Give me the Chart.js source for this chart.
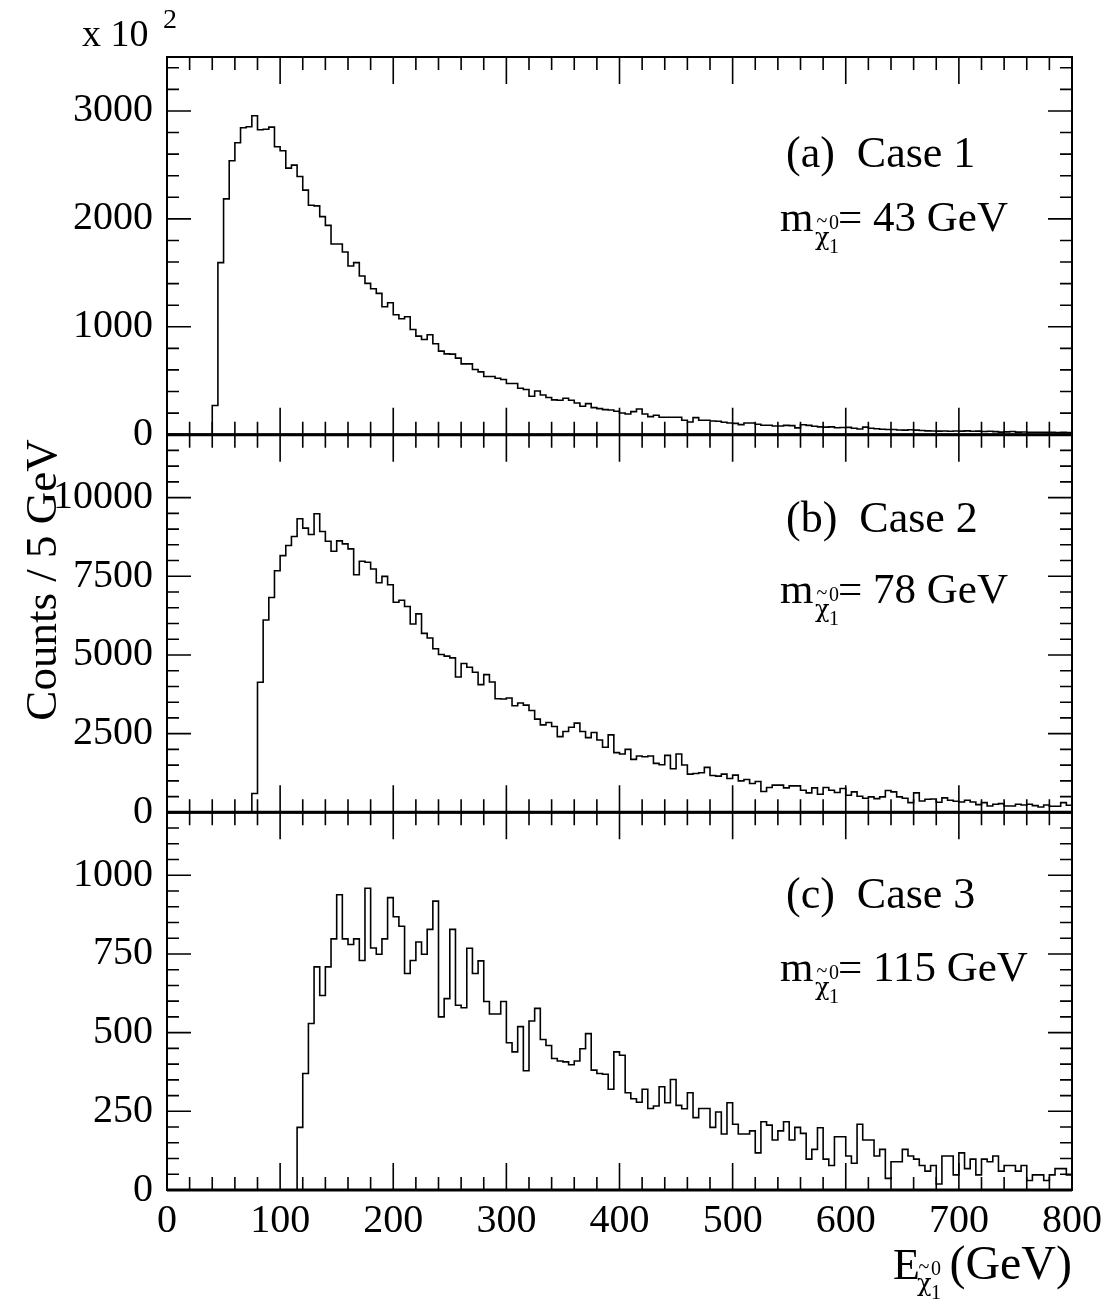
<!DOCTYPE html>
<html>
<head>
<meta charset="utf-8">
<title>Neutralino energy spectra</title>
<script src="https://cdn.jsdelivr.net/npm/chart.js@4.4.1/dist/chart.umd.min.js"></script>
<style>
    html, body { margin: 0; padding: 0; background: #fff; }
    #wrap { position: relative; width: 1109px; height: 1309px; }
</style>
</head>
<body>
<div id="wrap"><canvas id="mainChart" width="1109" height="1309"></canvas></div>
<script>
// Histogram bins: 5 GeV wide, 0 - 800 GeV (160 bins per case)
const BIN_WIDTH = 5;
const X_MIN = 0;
const X_MAX = 800;
const xTickLabels = [0, 100, 200, 300, 400, 500, 600, 700, 800];

// Counts / 5 GeV (in units of 10^2), bin by bin from 0 GeV
const case1Counts = [
    0, 0, 0, 0, 0, 0, 0, 0,
    270, 1594, 2185, 2538, 2705, 2844, 2853, 2956, 2826, 2830,
    2850, 2668, 2631, 2470, 2498, 2393, 2266, 2126, 2120, 2021,
    1940, 1767, 1767, 1693, 1563, 1594, 1470, 1402, 1352, 1309,
    1185, 1223, 1111, 1074, 1093, 975, 913, 882, 926, 842,
    774, 749, 746, 709, 656, 656, 604, 582, 539, 539,
    523, 511, 474, 474, 430, 418, 356, 405, 368, 344,
    322, 319, 337, 319, 294, 263, 288, 251, 241, 232,
    229, 217, 201, 192, 214, 238, 192, 167, 180, 161,
    161, 161, 161, 133, 118, 158, 133, 133, 127, 124,
    115, 108, 105, 93, 108, 108, 96, 87, 87, 80,
    80, 86, 84, 63, 92, 86, 78, 72, 70, 72,
    64, 66, 68, 60, 52, 70, 60, 55, 50, 48,
    48, 43, 42, 45, 42, 38, 35, 34, 33, 34,
    32, 34, 33, 35, 32, 33, 30, 31, 28, 24,
    26, 30, 24, 25, 22, 23, 22, 21, 22, 20,
    21, 20
];

const case2Counts = [
    0, 0, 0, 0, 0, 0, 0, 0, 0, 0, 0, 0, 0, 0, 0,
    597, 4131, 6112, 6827, 7678, 8158, 8477, 8765, 9329, 9031,
    8829, 9489, 8925, 8615, 8296, 8626, 8530, 8371, 7550, 7977,
    7945, 7732, 7295, 7497, 7231, 6677, 6741, 6539, 5985, 6305,
    5687, 5538, 5197, 5016, 4963, 4909, 4302, 4728, 4611, 4452,
    4058, 4377, 4143, 3610, 3600, 3631, 3387, 3472, 3408, 3237,
    2961, 2780, 2854, 2726, 2407, 2567, 2705, 2833, 2567, 2375,
    2535, 2300, 2066, 2460, 1896, 1853, 2002, 1683, 1789, 1768,
    1789, 1555, 1512, 1810, 1385, 1853, 1502, 1214, 1235, 1257,
    1427, 1172, 1150, 1214, 1076, 1182, 1001, 1044, 916, 980,
    661, 788, 863, 863, 777, 841, 841, 703, 617, 777,
    575, 788, 703, 628, 756, 543, 650, 511, 447, 490,
    437, 490, 692, 650, 490, 447, 309, 618, 362, 415,
    426, 319, 458, 383, 351, 330, 383, 330, 245, 309,
    202, 256, 277, 202, 202, 256, 234, 256, 213, 170,
    234, 192, 192, 309, 224
];

const case3Counts = [
    0, 0, 0, 0, 0, 0, 0, 0, 0, 0, 0, 0, 0, 0, 0, 0, 0, 0, 0, 0, 0, 0, 0,
    199, 370, 529, 709, 618, 709, 798, 938, 798, 780,
    798, 729, 959, 769, 749, 798, 929, 868, 838, 688,
    729, 788, 749, 828, 918, 550, 608, 828, 587, 579,
    768, 688, 728, 599, 559, 559, 599, 468, 439, 519,
    379, 537, 577, 478, 459, 418, 410, 407, 398, 410,
    449, 497, 381, 370, 368, 320, 439, 428, 309, 290,
    279, 320, 259, 267, 328, 277, 351, 269, 258, 309,
    230, 259, 259, 199, 248, 178, 277, 209, 178, 178,
    188, 118, 217, 206, 159, 188, 217, 159, 199, 180,
    98, 129, 198, 98, 78, 169, 169, 108, 85, 209,
    159, 159, 108, 129, 37, 90, 90, 129, 108, 98,
    78, 60, 78, 19, 108, 108, 48, 118, 68, 98,
    48, 98, 90, 108, 60, 78, 78, 60, 78, 30,
    48, 48, 30, 48, 68, 68, 48
];

// Y axis ranges and labelled ticks, one per panel (top to bottom)
const case1Max = 3500;
const case2Max = 12000;
const case3Max = 1200;
const case1Ticks = [0, 1000, 2000, 3000];
const case2Ticks = [0, 2500, 5000, 7500, 10000];
const case3Ticks = [0, 250, 500, 750, 1000];
const panelLabels = ['(a)  Case 1', '(b)  Case 2', '(c)  Case 3'];
const neutralinoMasses = ['43', '78', '115'];

const FONT = '"Liberation Serif", "Times New Roman", serif';
const GREEK_FONT = '"DejaVu Serif", serif';
const PANELS = ['ya', 'yb', 'yc'];
// minor / major tick steps for each panel's y axis, and the x axis
const yTickSteps = [[200, 1000], [500, 2500], [50, 250]];
const X_MINOR_STEP = 20;
const X_MAJOR_STEP = 100;

document.addEventListener('DOMContentLoaded', () => {
    initChart();
});

function histPoints(counts) {
    // left bin edges, plus the closing edge at X_MAX
    const pts = counts.map((c, i) => ({ x: X_MIN + i * BIN_WIDTH, y: c }));
    pts.push({ x: X_MAX, y: counts[counts.length - 1] });
    return pts;
}

function yScale(max, ticks) {
    return {
        type: 'linear',
        position: 'left',
        stack: 'panels',
        stackWeight: 1,
        min: 0,
        max: max,
        afterBuildTicks: s => { s.ticks = ticks.map(v => ({ value: v })); },
        afterFit: s => { s.width = 167; },
        grid: { display: false, drawTicks: false },
        border: { display: false },
        ticks: {
            color: '#000',
            autoSkip: false,
            padding: 14,
            font: { family: FONT, size: 40 },
            callback: v => String(v)
        }
    };
}

function histDataset(counts, axisId) {
    return {
        data: histPoints(counts),
        yAxisID: axisId,
        stepped: 'before',
        borderColor: '#000',
        borderWidth: 1.6,
        pointRadius: 0,
        fill: false,
        tension: 0
    };
}

function text(ctx, str, x, y, size, align, family) {
    ctx.font = `${size}px ${family || FONT}`;
    ctx.textAlign = align || 'left';
    ctx.textBaseline = 'alphabetic';
    ctx.fillText(str, x, y);
}

// chi-tilde with 0 / 1 indices; (x, y) = baseline of the main text
function drawChiSub(ctx, x, y) {
    text(ctx, '\u03C7', x, y + 14, 24, 'left', GREEK_FONT);
    text(ctx, '~', x + 7, y - 4, 20, 'center');
    text(ctx, '0', x + 14, y - 2, 20);
    text(ctx, '1', x + 14, y + 22, 20);
}

const decorations = {
    id: 'decorations',
    afterDatasetsDraw(chart) {
        const ctx = chart.ctx;
        const xs = chart.scales.x;
        const left = chart.chartArea.left;
        const right = chart.chartArea.right;

        ctx.save();
        ctx.strokeStyle = '#000';
        ctx.fillStyle = '#000';

        PANELS.forEach((id, p) => {
            const ys = chart.scales[id];
            const top = ys.top;
            const bottom = ys.bottom;

            // inward ticks on all four sides
            ctx.lineWidth = 1.6;
            ctx.beginPath();
            for (let v = X_MIN; v <= X_MAX; v += X_MINOR_STEP) {
                const px = xs.getPixelForValue(v);
                const len = v % X_MAJOR_STEP === 0 ? 27 : 13;
                ctx.moveTo(px, bottom);
                ctx.lineTo(px, bottom - len);
                ctx.moveTo(px, top);
                ctx.lineTo(px, top + len);
            }
            const [minor, major] = yTickSteps[p];
            for (let v = 0; v <= ys.max; v += minor) {
                const py = ys.getPixelForValue(v);
                const len = v % major === 0 ? 24 : 12;
                ctx.moveTo(left, py);
                ctx.lineTo(left + len, py);
                ctx.moveTo(right, py);
                ctx.lineTo(right - len, py);
            }
            ctx.stroke();

            // frame
            ctx.lineWidth = 2;
            ctx.strokeRect(left, top, right - left, bottom - top);
            ctx.lineWidth = 3;
            ctx.beginPath();
            ctx.moveTo(left, bottom);
            ctx.lineTo(right, bottom);
            ctx.stroke();
        });

        // panel annotations
        const labelY = [167, 532, 908];
        const massY = [231, 603, 981];
        PANELS.forEach((id, p) => {
            text(ctx, panelLabels[p], 786, labelY[p], 44);
            text(ctx, 'm', 780, massY[p], 43);
            drawChiSub(ctx, 815, massY[p]);
            text(ctx, '= ' + neutralinoMasses[p] + ' GeV', 838, massY[p], 43);
        });

        // x axis title, right aligned to the frame
        text(ctx, '(GeV)', right, 1279, 48, 'right');
        text(ctx, 'E', 893, 1279, 44);
        drawChiSub(ctx, 917, 1277);

        // y axis title
        ctx.save();
        ctx.translate(56, 580);
        ctx.rotate(-Math.PI / 2);
        text(ctx, 'Counts / 5 GeV', 0, 0, 45, 'center');
        ctx.restore();

        // exponent
        text(ctx, 'x 10', 82, 46, 38);
        text(ctx, '2', 163, 28, 28);

        ctx.restore();
    }
};

function initChart() {
    const ctx = document.getElementById('mainChart').getContext('2d');

    new Chart(ctx, {
        type: 'line',
        data: {
            datasets: [
                histDataset(case1Counts, 'ya'),
                histDataset(case2Counts, 'yb'),
                histDataset(case3Counts, 'yc')
            ]
        },
        options: {
            responsive: false,
            animation: false,
            devicePixelRatio: 1,
            layout: { padding: { left: 0, right: 36, top: 57, bottom: 0 } },
            scales: {
                x: {
                    type: 'linear',
                    min: X_MIN,
                    max: X_MAX,
                    afterBuildTicks: s => { s.ticks = xTickLabels.map(v => ({ value: v })); },
                    afterFit: s => { s.height = 119; },
                    grid: { display: false, drawTicks: false },
                    border: { display: false },
                    ticks: {
                        color: '#000',
                        autoSkip: false,
                        maxRotation: 0,
                        padding: 7,
                        font: { family: FONT, size: 40 },
                        callback: v => String(v)
                    }
                },
                // stacked panels: last defined is placed on top
                yc: yScale(case3Max, case3Ticks),
                yb: yScale(case2Max, case2Ticks),
                ya: yScale(case1Max, case1Ticks)
            },
            plugins: {
                legend: { display: false },
                tooltip: { enabled: false }
            }
        },
        plugins: [decorations]
    });
}
</script>
</body>
</html>
